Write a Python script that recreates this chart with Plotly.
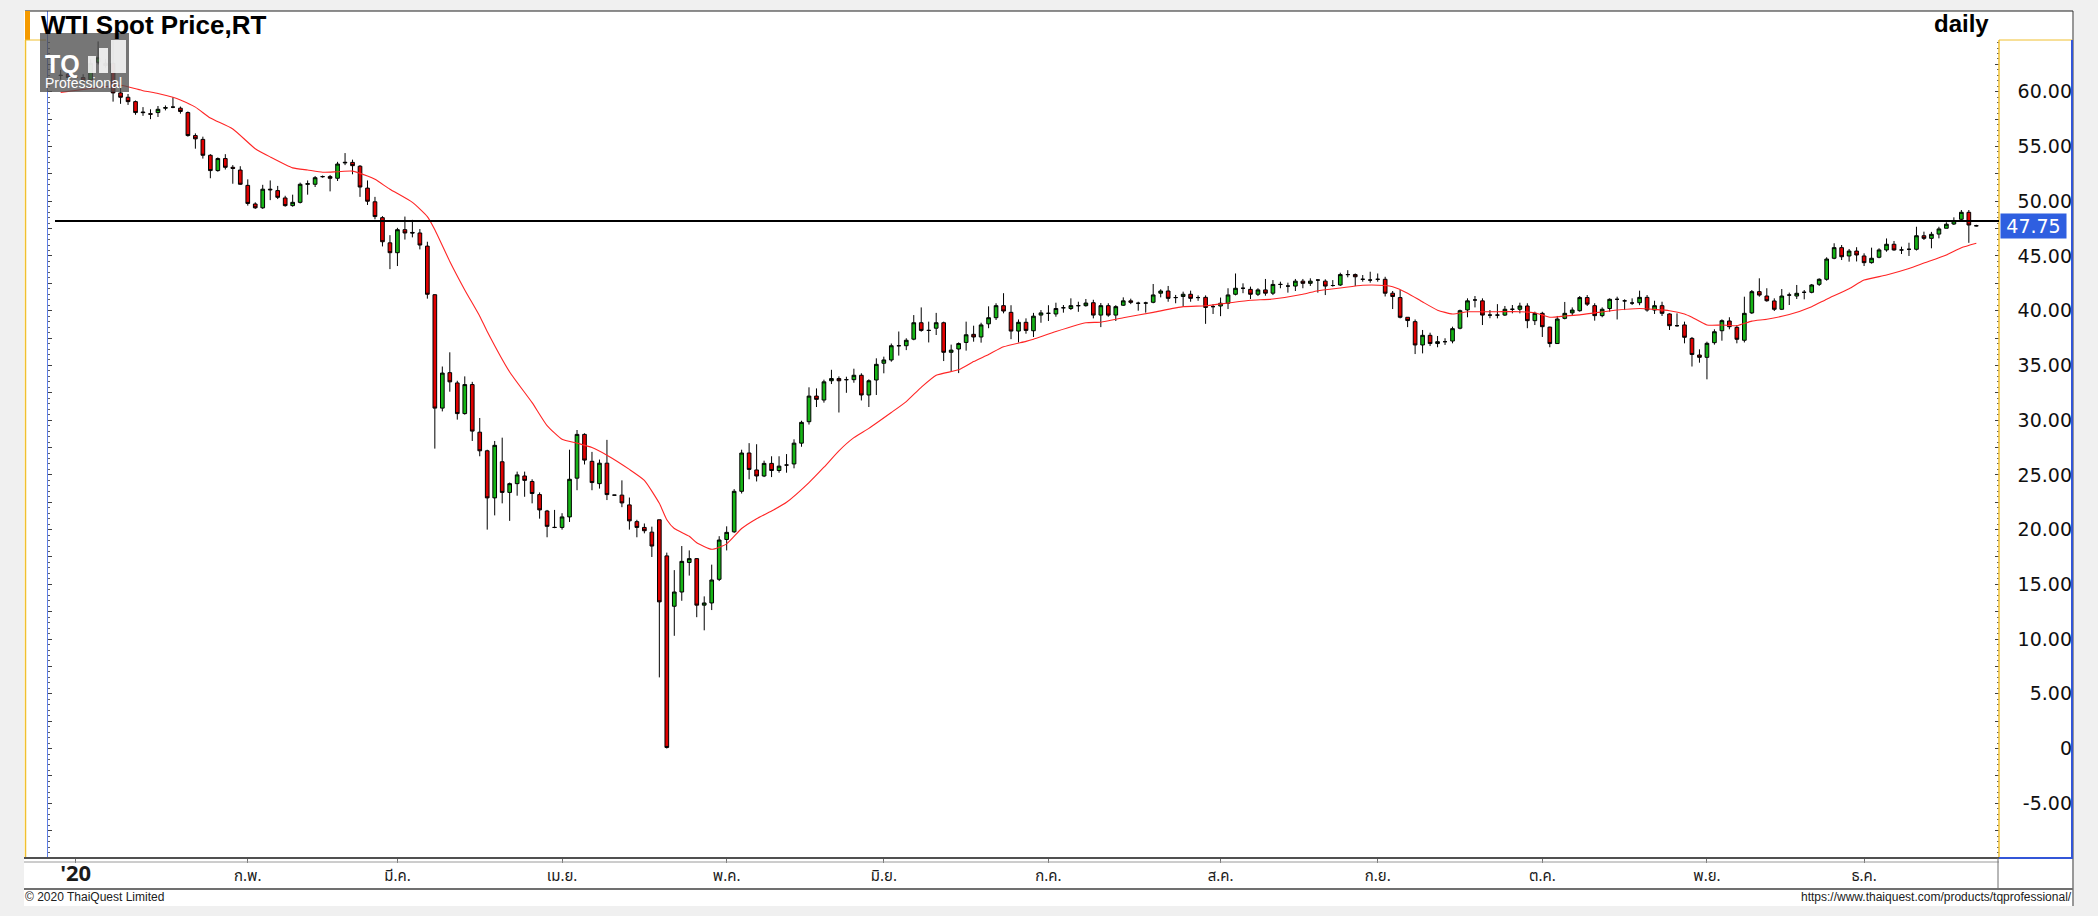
import plotly.graph_objects as go
import pandas as pd

W, H = 2098, 916

# ---------------- data ----------------
dates = [d.strftime("%Y-%m-%d") for d in pd.bdate_range("2019-12-30", "2020-12-22")]

opens = [
    61.5, 61.6, 61.3, 61.3, 61.1, 62.7, 62.6, 62.6, 59.9, 59.5,
    59.1, 58.15, 58.0, 58.1, 58.5, 58.6, 58.5, 58.1, 56.0, 55.65,
    54.2, 52.8, 53.9, 53.1, 52.85, 51.45, 49.75, 49.4, 51.1, 50.97,
    50.3, 49.6, 49.9, 51.55, 51.55, 52.25, 52.25, 52.1, 53.5, 53.55,
    53.2, 51.2, 49.95, 48.5, 46.2, 45.3, 47.4, 47.15, 47.1, 45.9,
    41.46, 31.1, 34.34, 33.4, 30.6, 33.25, 28.9, 27.2, 22.9, 26.2,
    23.4, 24.2, 24.9, 24.4, 23.2, 21.7, 20.2, 20.2, 21.16, 24.7,
    28.7, 26.24, 24.2, 26.07, 23.15, 23.15, 22.26, 20.73, 20.2, 19.77,
    20.9, 17.6, 13.0, 14.3, 17.0, 17.35, 13.1, 13.3, 15.46, 19.1,
    19.8, 23.5, 27.0, 25.45, 24.9, 26.05, 25.4, 25.9, 26.0, 27.9,
    29.86, 32.2, 31.84, 33.6, 33.8, 33.7, 33.7, 34.1, 32.3, 33.67,
    35.2, 35.5, 36.8, 36.8, 37.4, 38.9, 38.2, 38.4, 38.9, 36.2,
    36.5, 37.1, 37.84, 37.6, 38.8, 39.36, 40.46, 39.85, 38.14, 38.94,
    38.17, 39.6, 39.76, 39.7, 40.27, 40.2, 40.46, 40.46, 40.73, 39.6,
    40.46, 39.6, 40.5, 40.9, 40.68, 40.7, 40.77, 41.6, 41.8, 41.2,
    41.3, 41.5, 41.2, 41.22, 40.37, 40.43, 40.68, 41.5, 42.05, 41.95,
    41.5, 41.9, 41.6, 42.4, 42.25, 42.25, 42.7, 42.5, 42.8, 42.7,
    42.3, 42.35, 43.3, 43.3, 42.87, 42.8, 42.87, 42.87, 41.6, 41.2,
    39.4, 39.0, 36.87, 37.75, 37.0, 37.17, 37.23, 38.4, 40.07, 40.98,
    40.9, 39.6, 39.6, 39.6, 40.13, 40.13, 40.43, 39.09, 39.76, 38.5,
    37.0, 39.3, 39.8, 40.0, 41.2, 40.46, 39.55, 40.2, 41.04, 40.9,
    40.7, 40.73, 41.22, 40.06, 40.46, 39.7, 38.63, 38.7, 37.47, 35.95,
    35.74, 37.08, 38.17, 39.06, 38.48, 37.3, 39.8, 41.74, 41.34, 40.89,
    40.13, 41.43, 41.34, 41.68, 41.68, 42.41, 42.87, 44.79, 45.76, 45.0,
    45.45, 45.0, 44.39, 44.88, 45.55, 46.07, 45.55, 45.61, 45.61, 46.85,
    46.61, 47.0, 47.53, 47.92, 48.35, 48.99, 47.77,
]

highs = [
    62.0, 61.9, 61.3, 61.6, 63.0, 64.6, 63.0, 64.7, 60.6, 59.8,
    59.2, 58.6, 58.4, 58.7, 58.75, 59.5, 58.65, 58.2, 56.2, 55.9,
    54.3, 54.0, 54.3, 53.3, 53.2, 52.0, 49.9, 51.5, 51.9, 51.4,
    50.5, 50.6, 51.7, 51.9, 52.3, 52.35, 52.4, 53.6, 54.4, 53.8,
    53.3, 51.9, 50.4, 48.64, 46.9, 47.57, 48.6, 48.3, 47.46, 46.3,
    41.5, 34.9, 36.2, 33.6, 34.0, 33.5, 30.2, 27.3, 28.1, 28.4,
    24.3, 25.3, 25.3, 24.6, 23.4, 21.8, 21.8, 21.5, 27.3, 29.1,
    28.8, 27.1, 26.4, 28.2, 23.15, 24.5, 22.93, 20.9, 20.56, 20.27,
    20.9, 17.9, 16.3, 18.5, 18.1, 17.4, 13.9, 16.8, 19.4, 20.3,
    23.7, 27.3, 27.9, 27.8, 26.3, 26.7, 26.7, 26.9, 28.25, 29.95,
    33.0, 32.9, 33.7, 34.6, 34.0, 33.97, 34.7, 34.28, 33.73, 35.65,
    35.8, 37.0, 38.1, 37.48, 39.6, 40.3, 39.0, 39.8, 39.0, 36.9,
    37.1, 39.0, 38.63, 38.9, 40.4, 40.68, 41.6, 40.5, 39.2, 39.3,
    39.8, 40.06, 40.5, 40.73, 40.52, 41.13, 40.82, 41.07, 41.0, 40.7,
    40.68, 40.5, 41.22, 41.1, 40.82, 40.82, 42.44, 41.96, 42.26, 41.44,
    41.74, 41.83, 41.4, 41.4, 40.6, 41.2, 42.05, 43.4, 42.5, 42.2,
    42.05, 42.9, 42.8, 42.65, 42.56, 42.9, 42.9, 42.96, 42.87, 42.87,
    42.8, 43.47, 43.7, 43.4, 43.26, 43.56, 43.4, 43.1, 41.8, 41.9,
    39.4, 39.2, 38.24, 37.99, 37.69, 37.48, 38.54, 40.1, 41.13, 41.34,
    41.13, 40.06, 40.6, 40.43, 40.52, 40.73, 40.68, 39.91, 39.9, 38.54,
    39.52, 40.8, 40.3, 41.34, 41.43, 40.68, 40.3, 41.13, 41.28, 41.04,
    41.13, 41.83, 41.43, 40.91, 40.82, 39.76, 39.76, 39.0, 37.6, 36.47,
    37.17, 38.3, 39.21, 39.4, 38.69, 41.28, 41.89, 42.96, 42.05, 41.13,
    41.98, 41.65, 42.35, 41.89, 42.44, 42.96, 44.88, 46.16, 46.0, 45.64,
    45.8, 45.24, 45.76, 45.7, 46.6, 46.37, 45.85, 46.21, 47.67, 47.22,
    47.2, 47.67, 48.08, 48.53, 49.2, 49.2, 47.85,
]

lows = [
    61.1, 61.0, 61.3, 60.8, 60.9, 62.5, 62.2, 59.1, 58.9, 58.8,
    57.9, 57.8, 57.5, 57.7, 58.3, 58.5, 58.0, 55.9, 54.8, 53.9,
    52.1, 52.7, 52.9, 51.6, 51.5, 49.6, 49.3, 49.3, 50.1, 50.2,
    49.5, 49.5, 49.8, 50.6, 51.3, 52.15, 50.9, 51.85, 53.3, 52.46,
    50.4, 49.66, 48.35, 45.87, 43.8, 44.08, 46.5, 46.7, 45.6, 41.1,
    27.4, 30.8, 32.6, 30.05, 30.5, 28.1, 26.7, 20.0, 21.3, 22.4,
    20.8, 23.1, 23.0, 22.4, 21.0, 19.3, 20.13, 20.0, 20.7, 23.6,
    25.95, 23.6, 23.75, 22.7, 23.15, 22.05, 20.0, 19.3, 19.66, 17.5,
    6.5, 0.0, 10.3, 13.5, 15.8, 12.0, 10.8, 12.65, 15.3, 18.1,
    19.7, 23.3, 24.6, 24.4, 24.8, 24.8, 25.2, 25.2, 25.6, 27.57,
    29.6, 31.2, 31.6, 33.3, 30.7, 32.5, 33.42, 31.8, 31.2, 32.3,
    34.28, 35.34, 35.9, 36.4, 37.3, 38.08, 37.1, 37.78, 35.4, 34.4,
    34.3, 36.35, 37.17, 37.08, 38.4, 39.15, 39.76, 37.4, 37.1, 37.9,
    37.6, 38.9, 39.06, 39.45, 39.82, 40.06, 39.9, 40.37, 39.3, 38.5,
    39.45, 39.06, 40.43, 40.6, 40.0, 39.82, 40.68, 41.22, 40.82, 40.68,
    40.4, 40.82, 40.9, 38.8, 39.7, 39.5, 40.15, 41.4, 41.6, 41.07,
    41.34, 41.37, 41.43, 42.05, 41.65, 41.8, 42.05, 42.26, 41.65, 41.43,
    42.2, 42.26, 43.05, 42.25, 42.65, 42.56, 42.65, 41.3, 40.15, 39.3,
    38.5, 36.04, 36.1, 36.77, 36.66, 36.87, 37.02, 38.3, 39.4, 40.3,
    38.69, 39.31, 39.3, 39.52, 39.76, 39.76, 38.4, 38.69, 37.6, 36.66,
    36.96, 39.21, 39.6, 39.91, 40.43, 39.09, 39.4, 39.91, 39.2, 40.06,
    40.52, 40.5, 39.91, 39.7, 39.52, 38.24, 38.54, 37.02, 34.9, 35.25,
    33.73, 36.9, 37.26, 38.3, 37.02, 37.1, 39.7, 41.28, 40.82, 39.97,
    40.06, 40.52, 41.07, 41.04, 41.59, 42.26, 42.74, 44.7, 44.63, 44.48,
    44.5, 44.08, 44.3, 44.79, 45.39, 45.48, 45.18, 45.0, 45.5, 46.46,
    45.7, 46.61, 47.53, 47.83, 48.2, 46.2, 47.7,
]

closes = [
    61.5, 61.3, 61.3, 61.05, 62.6, 63.1, 62.4, 59.9, 59.5, 59.1,
    58.1, 58.1, 57.95, 58.4, 58.55, 58.6, 58.2, 56.0, 55.7, 54.2,
    52.8, 53.9, 53.1, 53.0, 51.55, 49.8, 49.4, 51.1, 51.05, 50.36,
    49.6, 49.9, 51.55, 51.6, 52.15, 52.25, 52.1, 53.4, 53.55, 53.25,
    51.3, 50.0, 48.6, 46.3, 45.3, 47.4, 47.1, 47.1, 46.0, 41.5,
    31.1, 34.3, 33.5, 30.6, 33.25, 29.0, 27.2, 22.9, 27.7, 23.4,
    24.2, 25.0, 24.5, 23.3, 21.8, 20.3, 20.2, 21.16, 24.6, 28.7,
    26.35, 24.3, 26.07, 23.2, 23.15, 22.44, 20.8, 20.2, 19.9, 18.5,
    13.4, 0.1, 14.3, 17.1, 17.35, 13.1, 13.3, 15.4, 19.05, 19.75,
    23.5, 27.0, 25.5, 24.9, 26.05, 25.4, 25.8, 25.9, 27.9, 29.8,
    32.2, 31.9, 33.5, 33.8, 33.6, 33.7, 34.1, 32.3, 33.6, 35.1,
    35.5, 36.8, 36.8, 37.3, 38.9, 38.2, 38.2, 38.9, 36.2, 36.4,
    37.0, 37.8, 37.6, 38.7, 39.36, 40.46, 39.97, 38.14, 38.94, 38.2,
    39.5, 39.8, 39.76, 40.2, 40.27, 40.46, 40.46, 40.7, 39.6, 40.46,
    39.6, 40.37, 40.9, 40.77, 40.68, 40.7, 41.44, 41.8, 41.13, 41.2,
    41.5, 41.13, 41.2, 40.3, 40.37, 40.68, 41.44, 42.05, 42.05, 41.5,
    41.9, 41.6, 42.4, 42.4, 42.25, 42.7, 42.5, 42.7, 42.8, 42.25,
    42.3, 43.3, 43.3, 43.1, 42.87, 42.8, 42.87, 41.6, 41.3, 39.4,
    39.1, 36.87, 37.75, 37.0, 37.17, 37.17, 38.36, 40.0, 40.9, 40.98,
    39.6, 39.6, 39.6, 40.13, 40.13, 40.43, 39.09, 39.76, 38.54, 37.0,
    39.24, 39.76, 40.06, 41.2, 40.6, 39.55, 40.13, 41.04, 41.04, 40.9,
    40.7, 41.22, 40.06, 40.46, 39.76, 38.63, 38.63, 37.57, 36.0, 35.74,
    37.02, 38.08, 39.09, 38.54, 37.39, 39.76, 41.74, 41.43, 40.91, 40.13,
    41.34, 41.43, 41.59, 41.68, 42.35, 42.87, 44.72, 45.76, 44.93, 45.45,
    45.09, 44.39, 44.79, 45.55, 46.07, 45.55, 45.55, 45.61, 46.85, 46.61,
    46.98, 47.47, 47.9, 48.22, 48.99, 47.83, 47.75,
]

# moving-average line (index into dates, value)
ma_index = [0, 4, 8, 11, 13, 15, 16, 18, 20, 23, 26, 28, 31, 33, 35, 37, 39, 41, 42, 44,
            47, 49, 50, 52, 54, 56, 57, 60, 63, 65, 67, 69, 71, 73, 76, 78, 80, 81, 82, 84,
            85, 87, 89, 91, 93, 95, 97, 100, 102, 104, 106, 108, 111, 113, 115, 117, 120, 122, 124, 126,
            129, 130, 133, 137, 139, 142, 146, 150, 153, 156, 159, 162, 166, 168, 171, 174, 177, 178, 180, 182,
            184, 186, 188, 190, 192, 195, 197, 199, 201, 203, 205, 208, 211, 213, 215, 217, 218, 220, 222, 224,
            226, 228, 231, 234, 236, 239, 241, 244, 247, 249, 252, 254, 256]
ma_values = [59.95, 60.3, 60.6, 60.1, 59.85, 59.5, 59.25, 58.6, 57.6, 56.6, 54.8, 54.05, 53.05, 52.85, 52.65, 52.7, 52.75, 52.3, 52.0, 51.1,
             49.9, 48.6, 47.4, 44.5, 41.9, 39.5, 38.1, 34.4, 31.6, 29.5, 28.25, 27.9, 27.5, 26.8, 25.5, 24.5, 22.4, 20.9, 20.1, 19.4,
             18.8, 18.2, 18.7, 20.1, 21.0, 21.7, 22.5, 24.3, 25.7, 27.2, 28.4, 29.25, 30.7, 31.7, 33.0, 34.1, 34.6, 35.35, 36.0, 36.7,
             37.2, 37.4, 38.1, 38.9, 38.95, 39.35, 39.85, 40.37, 40.45, 40.7, 40.95, 41.07, 41.5, 41.83, 42.07, 42.33, 42.3, 42.19, 41.6, 40.8,
             40.05, 39.7, 39.9, 39.91, 39.91, 39.91, 39.82, 39.4, 39.52, 39.62, 39.8, 40.06, 40.2, 40.12, 40.0, 39.7, 39.4, 38.7, 38.69, 38.63,
             39.05, 39.22, 39.65, 40.37, 41.05, 42.0, 42.8, 43.26, 43.85, 44.35, 45.09, 45.75, 46.16]

month_ticks = ["2020-01-01", "2020-02-03", "2020-03-02", "2020-04-01", "2020-05-01", "2020-06-01",
               "2020-07-01", "2020-08-03", "2020-09-01", "2020-10-01", "2020-11-02", "2020-12-01"]
month_labels = ["<b><span style='font-size:22px'>'20</span></b>", "ก.พ.", "มี.ค.", "เม.ย.", "พ.ค.", "มิ.ย.",
                "ก.ค.", "ส.ค.", "ก.ย.", "ต.ค.", "พ.ย.", "ธ.ค."]

y_tick_values = [-5, 0, 5, 10, 15, 20, 25, 30, 35, 40, 45, 50, 55, 60]
y_tick_labels = ["-5.00", "0", "5.00", "10.00", "15.00", "20.00", "25.00", "30.00",
                 "35.00", "40.00", "45.00", "50.00", "55.00", "60.00"]

last_price = 47.75
hline_price = 48.2

# ---------------- layout helpers ----------------
def fx(p):
    return p / W

def fy(p):
    return 1 - p / H

Y0, Y1 = -10.0, 67.38
X0, X1 = -4.77, 259.03

YELLOW = "#f0c030"
BLUE = "#3356d8"
SCALE_FONT = "DejaVu Sans, Verdana, sans-serif"
major_ticks = [v / 2 for v in range(-20, 130, 5)]
minor_ticks = [v / 2 for v in range(-20, 130)]

fig = go.Figure()
fig.add_trace(go.Candlestick(
    x=dates, open=opens, high=highs, low=lows, close=closes,
    increasing=dict(fillcolor="#16b416", line=dict(color="black", width=1)),
    decreasing=dict(fillcolor="#e00000", line=dict(color="black", width=1)),
    whiskerwidth=0, showlegend=False, name="WTI"))
fig.add_trace(go.Scatter(
    x=[dates[i] for i in ma_index], y=ma_values, mode="lines",
    line=dict(color="#ff2525", width=1.1, shape="spline", smoothing=0.5),
    showlegend=False, hoverinfo="skip"))
fig.add_trace(go.Scatter(x=[dates[0]], y=[None], yaxis="y2", showlegend=False, hoverinfo="skip"))
fig.add_trace(go.Scatter(x=[dates[0]], y=[None], yaxis="y3", showlegend=False, hoverinfo="skip"))

thai_font = "Tahoma, 'Noto Sans Thai', 'Leelawadee UI', Loma, Garuda, 'Noto Sans', sans-serif"

fig.update_layout(
    width=W, height=H, autosize=False,
    margin=dict(l=0, r=0, t=0, b=0, pad=0),
    paper_bgcolor="#f0f0f0", plot_bgcolor="white",
    showlegend=False,
    xaxis=dict(domain=[fx(25), fx(1999)], type="category", range=[X0, X1],
               rangeslider=dict(visible=False), showgrid=False, showline=False, zeroline=False,
               ticks="outside", ticklen=4, tickcolor="#707070", tickwidth=1,
               tickmode="array", tickvals=month_ticks, ticktext=month_labels,
               tickfont=dict(family=thai_font, size=15, color="#1a1a1a"), anchor="y"),
    yaxis=dict(domain=[fy(858), fy(11)], range=[Y0, Y1], anchor="free", position=fx(2072),
               side="left", showgrid=False, zeroline=False, showline=False, ticks="",
               tickmode="array", tickvals=y_tick_values, ticktext=y_tick_labels,
               tickfont=dict(family=SCALE_FONT, size=19, color="#101010")),
    yaxis2=dict(overlaying="y", side="right", anchor="x", range=[Y0, Y1], showgrid=False,
                zeroline=False, showline=False, showticklabels=False, ticks="inside", ticklen=4,
                tickcolor="#404040", tickmode="array", tickvals=major_ticks,
                minor=dict(tickvals=minor_ticks, ticks="inside", ticklen=2, tickcolor="#606060")),
    yaxis3=dict(overlaying="y", side="left", anchor="free", position=fx(46.5), range=[Y0, Y1],
                showgrid=False, zeroline=False, showline=True, linecolor="#6080e8", linewidth=1,
                showticklabels=False, ticks="inside", ticklen=4, tickcolor="#404040",
                tickmode="array", tickvals=major_ticks,
                minor=dict(tickvals=minor_ticks, ticks="inside", ticklen=2, tickcolor="#606060")),
)

shapes = []
def rect(x0, y0, x1, y1, fill, layer="below", opacity=1.0):
    shapes.append(dict(type="rect", xref="paper", yref="paper", x0=fx(x0), x1=fx(x1),
                       y0=fy(y1), y1=fy(y0), fillcolor=fill, line=dict(width=0),
                       layer=layer, opacity=opacity))

def line(x0, y0, x1, y1, color, width=1, layer="above"):
    shapes.append(dict(type="line", xref="paper", yref="paper", x0=fx(x0), x1=fx(x1),
                       y0=fy(y0), y1=fy(y1), line=dict(color=color, width=width), layer=layer))

# white chart card
rect(24, 11, 2074, 906, "white")
# frame
line(25, 11, 2073, 11, "#202020", 1)
line(2073, 11, 2073, 906, "#303030", 1)
rect(25, 11, 30, 40, "#f59a00", layer="above")
# left price-scale panel
line(25.5, 40, 25.5, 858, YELLOW, 1.5)
line(25, 40, 46, 40, YELLOW, 1)
# right price-scale panel
line(1999, 40, 1999, 858, YELLOW, 1.5)
line(1999, 40, 2072, 40, YELLOW, 1)
line(2072, 40, 2072, 858, BLUE, 2)
# bottom strip
line(24, 858, 1999, 858, "#505050", 2)
line(1999, 858, 2073, 858, BLUE, 2)
line(24, 862, 1999, 862, "#9a9a9a", 1)
line(24, 889, 2073, 889, "#707070", 2)
line(1998, 858, 1998, 889, "#707070", 1)
# horizontal price line
shapes.append(dict(type="line", xref="paper", yref="y", x0=fx(55), x1=fx(1999),
                   y0=hline_price, y1=hline_price, line=dict(color="black", width=2), layer="above"))
# TQ logo
rect(40, 33, 129, 92, "#505050", layer="above", opacity=0.78)
rect(88, 56, 96, 73, "white", layer="above", opacity=0.85)
rect(99, 48, 108, 73, "white", layer="above", opacity=0.85)
rect(111, 40, 126, 73, "white", layer="above", opacity=0.85)
fig.update_layout(shapes=shapes)

ann = []
ann.append(dict(xref="paper", yref="paper", x=fx(39), y=fy(25), xanchor="left", yanchor="middle",
                text="<b>WTI Spot Price,RT</b>", showarrow=False,
                font=dict(family="Liberation Sans, Arial, sans-serif", size=26, color="black")))
ann.append(dict(xref="paper", yref="paper", x=fx(1991), y=fy(24), xanchor="right", yanchor="middle",
                text="<b>daily</b>", showarrow=False,
                font=dict(family="Liberation Sans, Arial, sans-serif", size=24, color="black")))
ann.append(dict(xref="paper", yref="y", x=fx(1999.5), y=last_price, xanchor="left", yanchor="middle",
                text="47.75", showarrow=False, bgcolor="#2f5fe0", borderpad=1, width=63, height=22,
                align="center",
                font=dict(family=SCALE_FONT, size=19, color="white")))
ann.append(dict(xref="paper", yref="paper", x=fx(43), y=fy(64), xanchor="left", yanchor="middle",
                text="<b>TQ</b>", showarrow=False,
                font=dict(family="Liberation Sans, Arial, sans-serif", size=25, color="white")))
ann.append(dict(xref="paper", yref="paper", x=fx(43), y=fy(83), xanchor="left", yanchor="middle",
                text="Professional", showarrow=False,
                font=dict(family="Liberation Sans, Arial, sans-serif", size=14, color="white")))
ann.append(dict(xref="paper", yref="paper", x=fx(23), y=fy(897), xanchor="left", yanchor="middle",
                text="© 2020 ThaiQuest Limited", showarrow=False,
                font=dict(family="Liberation Sans, Arial, sans-serif", size=12, color="#202020")))
ann.append(dict(xref="paper", yref="paper", x=fx(2074), y=fy(897), xanchor="right", yanchor="middle",
                text="https://www.thaiquest.com/products/tqprofessional/", showarrow=False,
                font=dict(family="Liberation Sans, Arial, sans-serif", size=12, color="#202020")))
fig.update_layout(annotations=ann)

fig.write_html("out.html", config={"displayModeBar": False},
               post_script="document.body.style.margin='0';document.body.style.overflow='hidden';")
